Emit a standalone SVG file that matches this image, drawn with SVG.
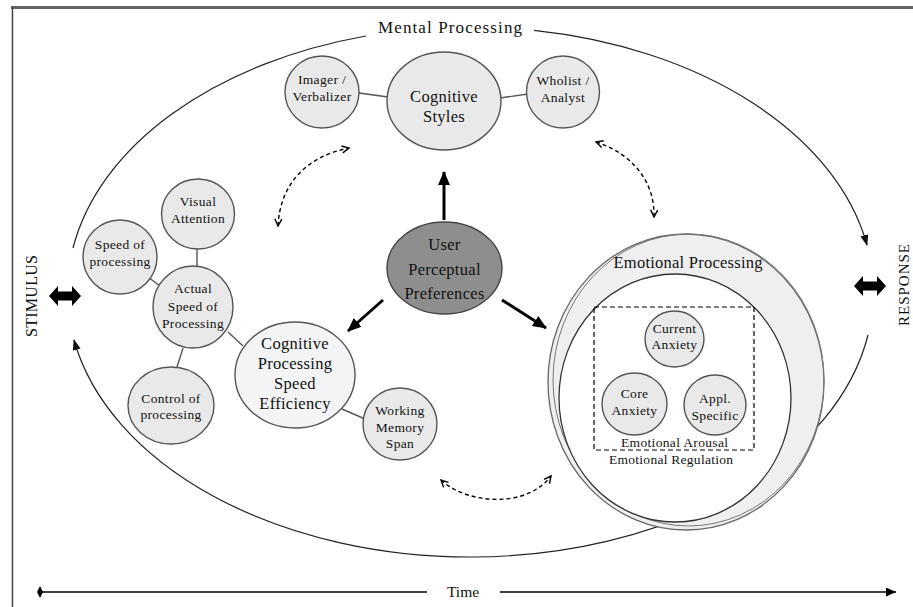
<svg xmlns="http://www.w3.org/2000/svg" width="913" height="607" viewBox="0 0 913 607" font-family="'Liberation Serif', 'Times New Roman', serif">
<style>
text { font-family: 'Liberation Serif', 'Times New Roman', serif; fill: #111; text-anchor: middle; }
.n { fill: #e9e9e9; stroke: #555; stroke-width: 1.4; }
.s { font-size: 13.5px; letter-spacing: 0.35px; }
.m { font-size: 16.5px; letter-spacing: 0.3px; }
.link { stroke: #555; stroke-width: 1.4; fill: none; }
.thick { stroke: #000; stroke-width: 3; fill: none; marker-end: url(#ah); }
.dash { stroke: #000; stroke-width: 1.4; fill: none; stroke-dasharray: 4 3; marker-start: url(#dh); marker-end: url(#dh); }
.orbit { stroke: #222; stroke-width: 1.2; fill: none; }
</style>
<defs>
<marker id="ah" markerUnits="userSpaceOnUse" markerWidth="15" markerHeight="15" refX="13" refY="7.5" orient="auto"><path d="M0,1.5 L14,7.5 L0,13.5 z" fill="#000"/></marker>
<marker id="dh" markerUnits="userSpaceOnUse" markerWidth="10" markerHeight="10" refX="8" refY="5" orient="auto-start-reverse"><path d="M1,1.5 L8,5 L1,8.5" fill="none" stroke="#000" stroke-width="1.4"/></marker>
<marker id="oh" markerUnits="userSpaceOnUse" markerWidth="12" markerHeight="10" refX="10" refY="4" orient="auto"><path d="M0,0 L11,4 L0,8 z" fill="#111"/></marker>
<marker id="th" markerUnits="userSpaceOnUse" markerWidth="12" markerHeight="10" refX="10" refY="4.5" orient="auto"><path d="M0,0 L10,4.5 L0,9 z" fill="#000"/></marker>
</defs>

<!-- frame -->
<line x1="11" y1="7.5" x2="913" y2="7.5" stroke="#666" stroke-width="3"/>
<line x1="12.5" y1="7" x2="12.5" y2="607" stroke="#444" stroke-width="1.5"/>

<!-- outer mental processing orbit -->
<g id="orbit">
<path class="orbit" d="M73,248 A403,265 0 0 1 366,36"/>
<path class="orbit" d="M534,30.4 A403,265 0 0 1 867,245" marker-end="url(#oh)"/>
<path class="orbit" d="M868,335 A403,265 0 0 1 74,340" marker-end="url(#oh)"/>
<text x="450" y="33" style="font-size:17px" textLength="144" lengthAdjust="spacing">Mental Processing</text>
</g>

<!-- stimulus / response -->
<g id="stimulus">
<text transform="translate(37,296) rotate(-90)" style="font-size:16px" textLength="82" lengthAdjust="spacing">STIMULUS</text>
<polygon points="49,296 58,286 58,291.5 72,291.5 72,286 81,296 72,306 72,300.5 58,300.5 58,306" fill="#000"/>
</g>
<g id="response">
<text transform="translate(909,285) rotate(-90)" style="font-size:15px" textLength="82" lengthAdjust="spacing">RESPONSE</text>
<polygon points="854,286 863,276 863,281.5 877,281.5 877,276 886,286 877,296 877,290.5 863,290.5 863,296" fill="#000"/>
</g>

<!-- time -->
<g id="time">
<line x1="40" y1="592" x2="427" y2="592" stroke="#000" stroke-width="1.3"/>
<line x1="500" y1="592" x2="896" y2="592" stroke="#000" stroke-width="1.3" marker-end="url(#th)"/>
<polygon points="40,586 43,592 40,598 37,592" fill="#000"/>
<text x="463" y="597" style="font-size:15.5px">Time</text>
</g>

<!-- connectors -->
<g id="connectors">
<line class="link" x1="359" y1="93" x2="388" y2="97"/>
<line class="link" x1="500" y1="98" x2="528" y2="94"/>
<line class="link" x1="197" y1="248" x2="197" y2="266"/>
<line class="link" x1="148" y1="277" x2="160" y2="286"/>
<line class="link" x1="183" y1="348" x2="177" y2="367"/>
<line class="link" x1="228" y1="332" x2="243" y2="346"/>
<line class="link" x1="342" y1="409" x2="365" y2="419"/>
<line class="link" x1="662" y1="367" x2="654" y2="379"/>
<line class="link" x1="689" y1="365" x2="697" y2="378"/>
<line class="link" x1="667" y1="406" x2="684" y2="406"/>
<line class="thick" x1="444" y1="220" x2="444" y2="172"/>
<line class="thick" x1="383" y1="300" x2="348" y2="331"/>
<line class="thick" x1="502" y1="300" x2="546" y2="328"/>
<path class="dash" d="M278,226 C280,185 305,157 349,148"/>
<path class="dash" d="M596,142 C628,152 655,178 654,217"/>
<path class="dash" d="M441,480 C465,503 525,510 551,476"/>
</g>

<!-- cognitive styles cluster -->
<g id="imager">
<ellipse class="n" cx="322" cy="92" rx="37" ry="36"/>
<text class="s" x="322" y="84">Imager /</text>
<text class="s" x="322" y="101">Verbalizer</text>
</g>
<g id="cognitive-styles">
<ellipse class="n" cx="444" cy="101" rx="57" ry="49"/>
<text class="m" x="444" y="102">Cognitive</text>
<text class="m" x="444" y="122">Styles</text>
</g>
<g id="wholist">
<ellipse class="n" cx="563" cy="92" rx="36.5" ry="36"/>
<text class="s" x="563" y="85">Wholist /</text>
<text class="s" x="563" y="102">Analyst</text>
</g>

<!-- user perceptual preferences -->
<g id="upp">
<ellipse cx="444.5" cy="268" rx="57.5" ry="46" fill="#8e8e8e" stroke="#444" stroke-width="1.4"/>
<text class="m" x="444.5" y="250">User</text>
<text class="m" x="444.5" y="275">Perceptual</text>
<text class="m" x="444.5" y="299">Preferences</text>
</g>

<!-- cognitive processing cluster -->
<g id="visual-attention">
<ellipse class="n" cx="198" cy="214" rx="36.5" ry="35"/>
<text class="s" x="198" y="206">Visual</text>
<text class="s" x="198" y="223">Attention</text>
</g>
<g id="speed-of-processing">
<ellipse class="n" cx="120" cy="257" rx="37" ry="37"/>
<text class="s" x="120" y="249">Speed of</text>
<text class="s" x="120" y="266">processing</text>
</g>
<g id="actual-speed">
<ellipse class="n" cx="193" cy="307" rx="40" ry="41"/>
<text class="s" x="193" y="293">Actual</text>
<text class="s" x="193" y="311">Speed of</text>
<text class="s" x="193" y="328">Processing</text>
</g>
<g id="control-of-processing">
<ellipse class="n" cx="171" cy="405.5" rx="43" ry="38.5"/>
<text class="s" x="171" y="403">Control of</text>
<text class="s" x="171" y="419">processing</text>
</g>
<g id="cpse">
<ellipse cx="295" cy="375" rx="60" ry="53" fill="#f3f4f5" stroke="#555" stroke-width="1.4"/>
<text class="m" x="295" y="349">Cognitive</text>
<text class="m" x="295" y="369">Processing</text>
<text class="m" x="295" y="389">Speed</text>
<text class="m" x="295" y="409">Efficiency</text>
</g>
<g id="working-memory">
<ellipse class="n" cx="400" cy="424" rx="37" ry="36"/>
<text class="s" x="400" y="415">Working</text>
<text class="s" x="400" y="432">Memory</text>
<text class="s" x="400" y="448">Span</text>
</g>

<!-- emotional processing -->
<g id="emotional-processing">
<ellipse cx="686" cy="382" rx="138" ry="148" fill="#efefef" stroke="#666" stroke-width="1.3"/>
<ellipse cx="688.5" cy="380" rx="135.5" ry="146" fill="none" stroke="#777" stroke-width="1"/>
<ellipse cx="675" cy="398" rx="116" ry="124" fill="#fff" stroke="#333" stroke-width="1.3"/>
<text x="688" y="268" style="font-size:16.5px" textLength="149" lengthAdjust="spacing">Emotional Processing</text>
<rect x="594" y="307" width="160" height="143" fill="none" stroke="#000" stroke-width="1.2" stroke-dasharray="5 3"/>
<text x="674.5" y="447" style="font-size:13.5px" textLength="107" lengthAdjust="spacing">Emotional Arousal</text>
<text x="671" y="464" style="font-size:13.5px" textLength="124" lengthAdjust="spacing">Emotional Regulation</text>
</g>
<g id="current-anxiety">
<ellipse class="n" cx="674.5" cy="339" rx="29.5" ry="28"/>
<text class="s" x="674.5" y="333">Current</text>
<text class="s" x="674.5" y="349">Anxiety</text>
</g>
<g id="core-anxiety">
<ellipse class="n" cx="634.5" cy="404" rx="32.5" ry="31"/>
<text class="s" x="634.5" y="398">Core</text>
<text class="s" x="634.5" y="415">Anxiety</text>
</g>
<g id="appl-specific">
<ellipse class="n" cx="715" cy="405" rx="31" ry="30"/>
<text class="s" x="715" y="403">Appl.</text>
<text class="s" x="715" y="420">Specific</text>
</g>
</svg>
